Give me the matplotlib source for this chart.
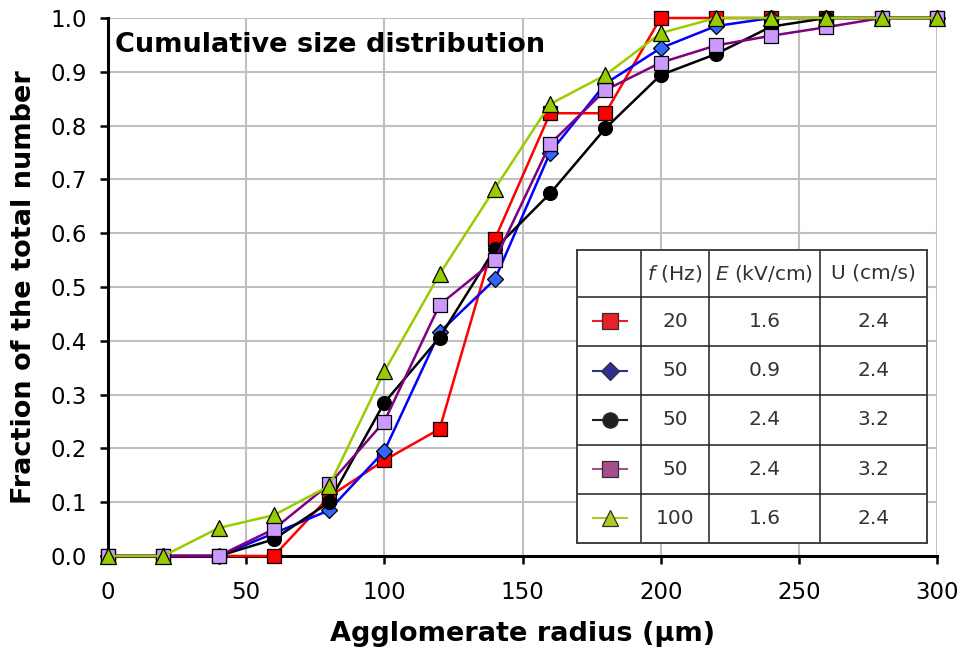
import matplotlib
matplotlib.use("Agg")
import matplotlib.pyplot as plt
from matplotlib.lines import Line2D

plt.rcParams['font.family'] = ['DejaVu Sans']

# agglomerate radius (um)
radius = [0, 20, 40, 60, 80, 100, 120, 140, 160, 180, 200, 220, 240, 260, 280, 300]

# cumulative fraction for each run
f20_e16 = [0, 0, 0, 0, 0.11, 0.178, 0.236, 0.589, 0.823, 0.823, 1.0, 1.0, 1.0, 1.0, 1.0, 1.0]
f50_e09 = [0, 0, 0, 0.042, 0.085, 0.195, 0.416, 0.514, 0.750, 0.878, 0.944, 0.985, 1.0, 1.0, 1.0, 1.0]
f50_e24a = [0, 0, 0, 0.031, 0.100, 0.285, 0.406, 0.571, 0.674, 0.795, 0.894, 0.933, 0.984, 1.0, 1.0, 1.0]
f50_e24b = [0, 0, 0, 0.050, 0.133, 0.250, 0.467, 0.550, 0.766, 0.866, 0.917, 0.949, 0.967, 0.983, 1.0, 1.0]
f100_e16 = [0, 0, 0.052, 0.076, 0.130, 0.343, 0.524, 0.683, 0.840, 0.894, 0.972, 1.0, 1.0, 1.0, 1.0, 1.0]

# table entries
freq = ["20", "50", "50", "50", "100"]
field = ["1.6", "0.9", "2.4", "2.4", "1.6"]
speed = ["2.4", "2.4", "3.2", "3.2", "2.4"]

series = [f20_e16, f50_e09, f50_e24a, f50_e24b, f100_e16]
line_cols = ["#FF0000", "#0000FF", "#000000", "#800080", "#99CC00"]
fill_cols = ["#FF0000", "#3366FF", "#000000", "#CC99FF", "#99CC00"]
markers = ["s", "D", "o", "s", "^"]
msizes = [10, 8, 10, 10, 11]
# legend swatches in the table use slightly different colours
leg_line = ["#E8202A", "#2E3192", "#231F20", "#A84E8F", "#B0CB1F"]
leg_fill = ["#E8202A", "#2E3192", "#231F20", "#A84E8F", "#B0CB1F"]

fig = plt.figure(figsize=(9.64, 6.52), dpi=100)
ax = fig.add_axes([108/964, 1-556/652, 829/964, 538/652])

for i, y in enumerate(series):
    ax.plot(radius, y, color=line_cols[i], lw=1.8, marker=markers[i],
            ms=msizes[i], mfc=fill_cols[i], mec="black", mew=0.9,
            clip_on=False, zorder=3+i)

ax.set_xlim(0, 300)
ax.set_ylim(0, 1.0)
ax.set_xticks(range(0, 301, 50))
ax.set_yticks([i/10 for i in range(11)])
ax.set_yticklabels(["%.1f" % (i/10) for i in range(11)])
ax.grid(True, color="#C0C0C0", lw=1.5)
ax.set_axisbelow(True)
for s in ["top", "right"]:
    ax.spines[s].set_visible(False)
for s in ["left", "bottom"]:
    ax.spines[s].set_linewidth(2.2)
ax.tick_params(direction="out", length=6, width=1.8, labelsize=16.5)
ax.tick_params(axis="x", pad=12)
ax.tick_params(axis="y", pad=9)

ax.set_xlabel("Agglomerate radius (\u03bcm)", fontsize=19.5, fontweight="bold", labelpad=12)
ax.set_ylabel("Fraction of the total number", fontsize=19.5, fontweight="bold", labelpad=10)
ax.text(0.009, 0.95, "Cumulative size distribution", transform=ax.transAxes,
        fontsize=19.5, fontweight="bold", va="center", ha="left")

# legend table
tab = fig.add_axes([577/964, 1-543/652, 350/964, 293/652])
tab.set_xlim(0, 1)
tab.set_ylim(0, 1)
tab.set_xticks([])
tab.set_yticks([])
for s in tab.spines.values():
    s.set_color("#404040")
    s.set_linewidth(1.4)
tab.set_zorder(10)

cols = [0, 0.183, 0.377, 0.694, 1.0]
head_h = 0.16
row_h = (1 - head_h) / 5
for c in cols[1:-1]:
    tab.axvline(c, color="#202020", lw=1.1)
tab.axhline(1 - head_h, color="#202020", lw=1.1)
for r in range(1, 5):
    tab.axhline(1 - head_h - r*row_h, color="#202020", lw=1.1)

txt = dict(fontsize=14.5, color="#333333", ha="center", va="center")
heads = ["$f$ (Hz)", "$E$ (kV/cm)", "U (cm/s)"]
for j, h in enumerate(heads):
    tab.text((cols[j+1] + cols[j+2]) / 2, 1 - head_h/2, h, **txt)
for r in range(5):
    yc = 1 - head_h - (r + 0.5) * row_h
    for j, v in enumerate([freq[r], field[r], speed[r]]):
        tab.text((cols[j+1] + cols[j+2]) / 2, yc, v, **txt)
    tab.add_line(Line2D([0.045, 0.142], [yc, yc], color=leg_line[r], lw=1.5))
    tab.plot([0.0935], [yc], marker=markers[r], ms=msizes[r] + 1, mfc=leg_fill[r],
             mec="#303030", mew=0.9, ls="none")

fig.savefig("out.png", dpi=100)
